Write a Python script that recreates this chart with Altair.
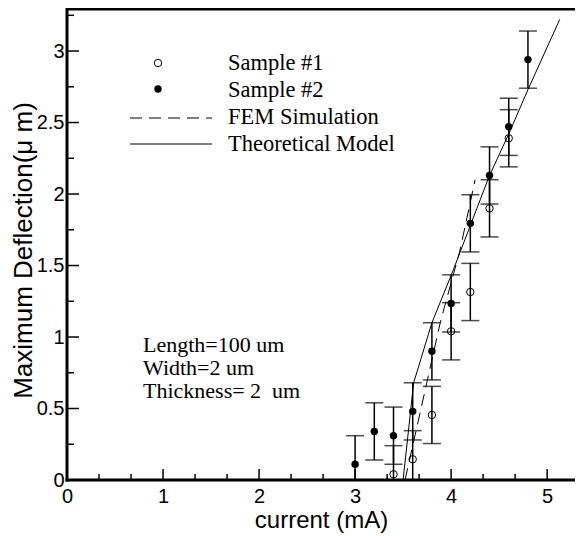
import altair as alt
import pandas as pd

# ---- data ----
s1_x = [3.4, 3.6, 3.8, 4.0, 4.2, 4.4, 4.6]
s1_y = [0.04, 0.145, 0.455, 1.04, 1.315, 1.90, 2.39]
s1_err = [0.2, 0.2, 0.2, 0.2, 0.2, 0.2, 0.2]

s2_x = [3.0, 3.2, 3.4, 3.6, 3.8, 4.0, 4.2, 4.4, 4.6, 4.8]
s2_y = [0.11, 0.34, 0.31, 0.48, 0.90, 1.235, 1.795, 2.13, 2.47, 2.94]
s2_err = [0.2, 0.2, 0.2, 0.2, 0.2, 0.2, 0.2, 0.2, 0.2, 0.2]

fem_x = [3.52, 3.75, 3.89, 4.09, 4.25]
fem_y = [0.0, 0.69, 1.11, 1.60, 2.10]

theo_x = [3.50, 3.61, 3.80, 4.00, 4.20, 4.40, 4.60, 4.80, 5.13]
theo_y = [0.0, 0.68, 1.10, 1.43, 1.78, 2.13, 2.42, 2.73, 3.22]

x_major = [0, 1, 2, 3, 4, 5]
x_minor = [1/3, 2/3, 4/3, 5/3, 7/3, 8/3, 10/3, 11/3, 13/3, 14/3, 16/3]
y_major = [0, 0.5, 1, 1.5, 2, 2.5, 3]
y_minor = [0.25, 0.75, 1.25, 1.75, 2.25, 2.75, 3.25]

legend_labels = ["Sample #1", "Sample #2", "FEM Simulation", "Theoretical Model"]
note_lines = ["Length=100 um", "Width=2 um", "Thickness= 2\u00a0 um"]

x_title = "current (mA)"
y_title = "Maximum Deflection(\u03bc m)"

# ---- layout ----
W, H = 508, 471
xs = alt.Scale(domain=[0, 5.29], nice=False, zero=False)
ys = alt.Scale(domain=[0, 3.294], nice=False, zero=False)
SANS = "Liberation Sans"
SERIF = "Liberation Serif"

XAX = alt.Axis(values=x_major, format="d", title=x_title, grid=False, ticks=False,
               domain=False,
               labelFont=SANS, labelFontSize=20, labelColor="black", labelPadding=6,
               labelFlush=False, labelOverlap=False,
               titleFont=SANS, titleFontSize=24, titleFontWeight="normal", titleColor="black",
               titleY=40, titleBaseline="middle")
YAX = alt.Axis(values=y_major, format="~g", title=y_title, grid=False, ticks=False,
               domain=False,
               labelFont=SANS, labelFontSize=20, labelColor="black", labelPadding=3,
               labelFlush=False, labelOverlap=False,
               titleFont=SANS, titleFontSize=26, titleFontWeight="normal", titleColor="black",
               titleX=-44, titleY=241, titleAngle=-90, titleAlign="center",
               titleBaseline="middle")


def X(f):
    return alt.X(f, scale=xs, axis=XAX)


def Y(f):
    return alt.Y(f, scale=ys, axis=YAX)


s1 = pd.DataFrame({"x": s1_x, "y": s1_y, "e": s1_err})
s2 = pd.DataFrame({"x": s2_x, "y": s2_y, "e": s2_err})
fem = pd.DataFrame({"x": fem_x, "y": fem_y})
theo = pd.DataFrame({"x": theo_x, "y": theo_y})


def errbars(df):
    base = alt.Chart(df).transform_calculate(lo="datum.y - datum.e", hi="datum.y + datum.e")
    bar = base.mark_rule(color="black", strokeWidth=1.5, clip=True).encode(
        x=X("x:Q"), y=Y("lo:Q"), y2="hi:Q",
    )
    cap_lo = base.mark_tick(color="black", orient="horizontal", size=18, thickness=1.5, clip=True).encode(
        x=X("x:Q"), y=Y("lo:Q")
    )
    cap_hi = base.mark_tick(color="black", orient="horizontal", size=18, thickness=1.5, clip=True).encode(
        x=X("x:Q"), y=Y("hi:Q")
    )
    return [bar, cap_lo, cap_hi]


theo_line = alt.Chart(theo).mark_line(color="black", strokeWidth=1, clip=True).encode(
    x=X("x:Q"), y=Y("y:Q")
)
fem_line = alt.Chart(fem).mark_line(color="black", strokeWidth=1, strokeDash=[12, 7], clip=True).encode(
    x=X("x:Q"), y=Y("y:Q")
)

p1 = alt.Chart(s1).mark_point(shape="circle", size=55, filled=True, fill="white", stroke="black",
                              strokeWidth=1, opacity=1).encode(x=X("x:Q"), y=Y("y:Q"))
p2 = alt.Chart(s2).mark_point(shape="circle", size=55, filled=True, color="black", opacity=1).encode(
    x=X("x:Q"), y=Y("y:Q"))


# manual inward ticks
def xt(vals, ln):
    return alt.Chart(pd.DataFrame({"x": vals})).mark_rule(color="black", strokeWidth=1.5).encode(
        x=X("x:Q"), y=alt.value(H), y2=alt.value(H - ln)
    )


def yt(vals, ln):
    return alt.Chart(pd.DataFrame({"y": vals})).mark_rule(color="black", strokeWidth=1.5).encode(
        y=Y("y:Q"), x=alt.value(0), x2=alt.value(ln)
    )


one = pd.DataFrame({"a": [0]})
frame = [
    alt.Chart(one).mark_rule(color="black", strokeWidth=3).encode(
        x=alt.value(0), x2=alt.value(W + 10), y=alt.value(0)),
    alt.Chart(one).mark_rule(color="black", strokeWidth=3).encode(
        x=alt.value(-1.5), x2=alt.value(W + 10), y=alt.value(H)),
    alt.Chart(one).mark_rule(color="black", strokeWidth=3).encode(
        x=alt.value(0), y=alt.value(-1.5), y2=alt.value(H + 1.5)),
]

leg = [
    alt.Chart(one).mark_point(shape="circle", size=55, filled=True, fill="white", stroke="black",
                              strokeWidth=1, opacity=1).encode(x=alt.value(91), y=alt.value(54)),
    alt.Chart(one).mark_point(shape="circle", size=55, filled=True, color="black", opacity=1).encode(
        x=alt.value(91), y=alt.value(80)),
    alt.Chart(one).mark_rule(color="black", strokeWidth=1, strokeDash=[12, 7]).encode(
        x=alt.value(63), x2=alt.value(145), y=alt.value(109)),
    alt.Chart(one).mark_rule(color="black", strokeWidth=1).encode(
        x=alt.value(63), x2=alt.value(145), y=alt.value(135)),
]
for i, lab in enumerate(legend_labels):
    leg.append(alt.Chart(one).mark_text(text=lab, font=SERIF, fontSize=22.5, align="left",
                                        baseline="middle", color="black").encode(
        x=alt.value(161), y=alt.value(54 + 27 * i)))
for i, line in enumerate(note_lines):
    leg.append(alt.Chart(one).mark_text(text=line, font=SERIF, fontSize=22, align="left",
                                        baseline="middle", color="black").encode(
        x=alt.value(76), y=alt.value(336 + 23 * i)))

layers = ([p2, p1] + errbars(s1) + errbars(s2) + [theo_line, fem_line,
          xt(x_major, 11), xt(x_minor, 6), yt(y_major, 12), yt(y_minor, 7)] + frame + leg)

chart = alt.layer(*layers).properties(
    width=W, height=H, autosize=alt.AutoSizeParams(type="none"),
    padding={"left": 59, "top": 1, "right": 0, "bottom": 56},
).configure_view(stroke=None)

chart.save("out.html", embed_options={"renderer": "svg", "actions": False})
